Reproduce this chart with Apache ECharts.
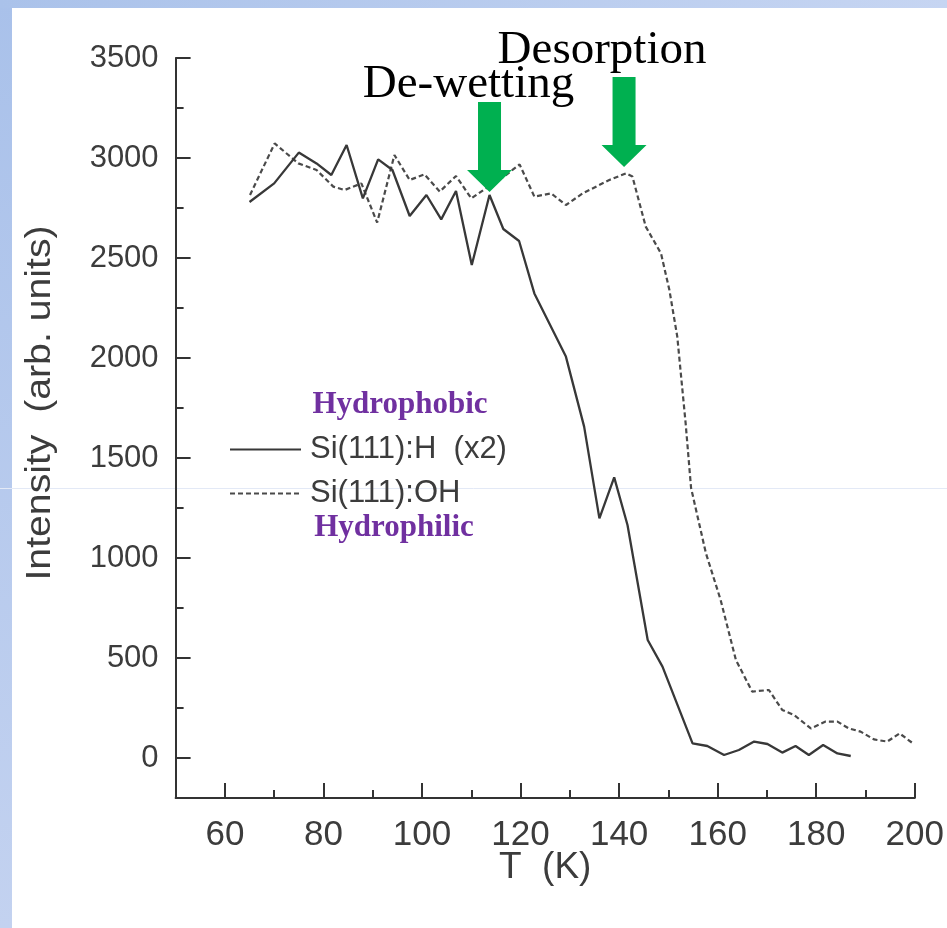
<!DOCTYPE html>
<html>
<head>
<meta charset="utf-8">
<script src="https://cdn.jsdelivr.net/npm/echarts@6/dist/echarts.min.js"></script>
<style>
  html, body { margin: 0; padding: 0; background: #fff; }
  #chart { width: 947px; height: 928px; }
</style>
</head>
<body>
<div id="chart"></div>
<script>
// Temperature (K) and intensity for the hydrogen-terminated surface (scaled x2)
const tempH = [65, 70, 75, 78.6, 81.6, 84.7, 88, 91.1, 94, 97.5, 100.9, 103.9, 106.9, 110.1, 113.7, 116.5, 119.7, 122.8, 129.2, 132.9, 136, 139, 141.7, 145.8, 148.8, 154.9, 157.9, 161.3, 164.3, 167.4, 170.1, 173.1, 175.8, 178.5, 181.4, 184.3, 187];
const intensityH = [2780, 2873, 3027, 2973, 2915, 3065, 2798, 2993, 2940, 2710, 2815, 2693, 2835, 2465, 2815, 2645, 2585, 2323, 2007, 1657, 1198, 1403, 1165, 590, 457, 73, 60, 15, 40, 82, 70, 27, 60, 15, 65, 23, 10];

// Temperature (K) and intensity for the hydroxyl-terminated surface
const tempOH = [65.1, 70.1, 74.9, 78.6, 82, 84.3, 87.7, 90.9, 94.4, 97.5, 100.5, 103.6, 106.9, 110, 113.7, 116.8, 119.8, 122.8, 126.2, 129.2, 132.6, 138, 141.4, 142.7, 145.4, 148.5, 150.2, 151.8, 153.5, 154.6, 157.6, 160.6, 163.7, 167, 170.4, 173.1, 175.5, 178.9, 181.9, 184.3, 186.6, 189, 191.7, 194.4, 196.9, 199.8];
const intensityOH = [2815, 3073, 2973, 2940, 2857, 2840, 2873, 2677, 3015, 2890, 2918, 2832, 2910, 2798, 2860, 2910, 2968, 2807, 2823, 2765, 2823, 2890, 2923, 2907, 2657, 2523, 2340, 2107, 1673, 1350, 1025, 790, 490, 332, 340, 240, 215, 148, 182, 182, 148, 132, 93, 82, 123, 70];

// Axis tick values
const xMajorTicks = [60, 80, 100, 120, 140, 160, 180, 200];
const xMinorTicks = [70, 90, 110, 130, 150, 170, 190];
const yMajorTicks = [0, 500, 1000, 1500, 2000, 2500, 3000, 3500];
const yMinorTicks = [250, 750, 1250, 1750, 2250, 2750, 3250];

// Annotation arrows: label and the point each arrow tip marks
const arrowNotes = ['De-wetting', 'Desorption'];
const arrowTips = [[113.7, 2830], [141, 2955]];

const seriesNames = ['Si(111):H  (x2)', 'Si(111):OH'];

function zip(xs, ys) { return xs.map((x, i) => [x, ys[i]]); }

const axisColor = '#333';
const textColor = '#3c3c3c';
const sans = '"Liberation Sans", Arial, sans-serif';
const serif = '"Liberation Serif", "Times New Roman", serif';

const chart = echarts.init(document.getElementById('chart'), null, { renderer: 'canvas' });

const xBase = { type: 'value', min: 50, max: 200, splitLine: { show: false } };
const yBase = { type: 'value', min: -200, max: 3500, splitLine: { show: false } };
const plain = v => String(v);

chart.setOption({
  backgroundColor: '#ffffff',
  animation: false,
  grid: { left: 175.6, right: 31, top: 58, bottom: 130, containLabel: false },
  xAxis: [
    Object.assign({}, xBase, {
      position: 'bottom',
      name: 'T  (K)',
      nameLocation: 'middle',
      nameGap: 51,
      nameMoveOverlap: false,
      nameTextStyle: { fontFamily: sans, fontSize: 37, color: textColor, verticalAlign: 'top' },
      axisLine: { show: true, onZero: false, lineStyle: { color: axisColor, width: 2 } },
      axisTick: { show: true, inside: true, length: 15, customValues: xMajorTicks, lineStyle: { color: axisColor, width: 2 } },
      axisLabel: { show: true, customValues: xMajorTicks, formatter: plain, margin: 20, fontFamily: sans, fontSize: 35, color: textColor }
    }),
    Object.assign({}, xBase, {
      position: 'bottom',
      axisLine: { show: false, onZero: false },
      axisTick: { show: true, inside: true, length: 8, customValues: xMinorTicks, lineStyle: { color: axisColor, width: 2 } },
      axisLabel: { show: false }
    })
  ],
  yAxis: [
    Object.assign({}, yBase, {
      position: 'left',
      axisLine: { show: true, onZero: false, lineStyle: { color: axisColor, width: 2 } },
      axisTick: { show: true, inside: true, length: 15, customValues: yMajorTicks, lineStyle: { color: axisColor, width: 2 } },
      axisLabel: { show: true, customValues: yMajorTicks, formatter: plain, margin: 17, fontFamily: sans, fontSize: 31, color: textColor }
    }),
    Object.assign({}, yBase, {
      position: 'left',
      axisLine: { show: false, onZero: false },
      axisTick: { show: true, inside: true, length: 8, customValues: yMinorTicks, lineStyle: { color: axisColor, width: 2 } },
      axisLabel: { show: false }
    })
  ],
  legend: {
    orient: 'vertical',
    left: 229,
    top: 434,
    padding: 0,
    itemWidth: 71,
    itemHeight: 14,
    itemGap: 13,
    itemStyle: { opacity: 0 },
    textStyle: { fontFamily: sans, fontSize: 31, color: textColor, padding: [0, 0, 0, 4] },
    data: seriesNames
  },
  series: [
    {
      name: seriesNames[0],
      type: 'line',
      data: zip(tempH, intensityH),
      symbol: 'none',
      lineStyle: { color: '#383838', width: 2.3 },
      itemStyle: { color: '#383838' },
      z: 3
    },
    {
      name: seriesNames[1],
      type: 'line',
      data: zip(tempOH, intensityOH),
      symbol: 'none',
      lineStyle: { color: '#4a4a4a', width: 2.2, type: [5, 3] },
      itemStyle: { color: '#4a4a4a' },
      z: 2
    }
  ]
});

// Decorations drawn in pixel space: slide frame, axis title, annotations
function buildGraphics() {
  const arrows = arrowTips.map((tip, i) => {
    const p = chart.convertToPixel({ xAxisIndex: 0, yAxisIndex: 0 }, tip);
    const shaftHalf = 11.5, headHalf = 22.5, headLen = 22, total = 90;
    const tx = p[0], ty = p[1];
    return {
      type: 'polygon',
      z: 100,
      shape: {
        points: [
          [tx - shaftHalf, ty - total], [tx + shaftHalf, ty - total],
          [tx + shaftHalf, ty - headLen], [tx + headHalf, ty - headLen],
          [tx, ty],
          [tx - headHalf, ty - headLen], [tx - shaftHalf, ty - headLen]
        ]
      },
      style: { fill: '#00b050' }
    };
  });
  const notes = arrowNotes.map((txt, i) => {
    const p = chart.convertToPixel({ xAxisIndex: 0, yAxisIndex: 0 }, arrowTips[i]);
    const offsets = [[-21, -84], [-22, -93]];
    return {
      type: 'text',
      z: 100,
      x: p[0] + offsets[i][0],
      y: p[1] + offsets[i][1],
      style: {
        text: txt, fontFamily: serif, fontSize: 47, fill: '#000',
        align: 'center', verticalAlign: 'bottom'
      }
    };
  });
  chart.setOption({
    graphic: [
      {
        type: 'rect', z: -10, silent: true,
        shape: { x: 0, y: 0, width: 12, height: 928 },
        style: { fill: new echarts.graphic.LinearGradient(0, 0, 0, 1, [
          { offset: 0, color: '#a9c1ea' }, { offset: 1, color: '#c3d2f0' }]) }
      },
      {
        type: 'rect', z: -10, silent: true,
        shape: { x: 0, y: 0, width: 947, height: 8 },
        style: { fill: new echarts.graphic.LinearGradient(0, 0, 1, 0, [
          { offset: 0, color: '#aac2ea' }, { offset: 1, color: '#c6d5f2' }]) }
      },
      {
        type: 'line', z: -5, silent: true,
        shape: { x1: 0, y1: 488.5, x2: 947, y2: 488.5 },
        style: { stroke: '#e3e9f6', lineWidth: 1 }
      },
      {
        type: 'text', z: 50,
        x: 40, y: 403, rotation: Math.PI / 2, scaleX: 1.12,
        style: {
          text: 'Intensity  (arb. units)', fontFamily: sans, fontSize: 35, fill: textColor,
          align: 'center', verticalAlign: 'middle'
        }
      },
      {
        type: 'text', z: 50, x: 400, y: 405,
        style: {
          text: 'Hydrophobic', fontFamily: serif, fontWeight: 'bold', fontSize: 31, fill: '#7030a0',
          align: 'center', verticalAlign: 'middle'
        }
      },
      {
        type: 'text', z: 50, x: 394, y: 528,
        style: {
          text: 'Hydrophilic', fontFamily: serif, fontWeight: 'bold', fontSize: 31, fill: '#7030a0',
          align: 'center', verticalAlign: 'middle'
        }
      }
    ].concat(arrows, notes)
  });
}
buildGraphics();
</script>
</body>
</html>
